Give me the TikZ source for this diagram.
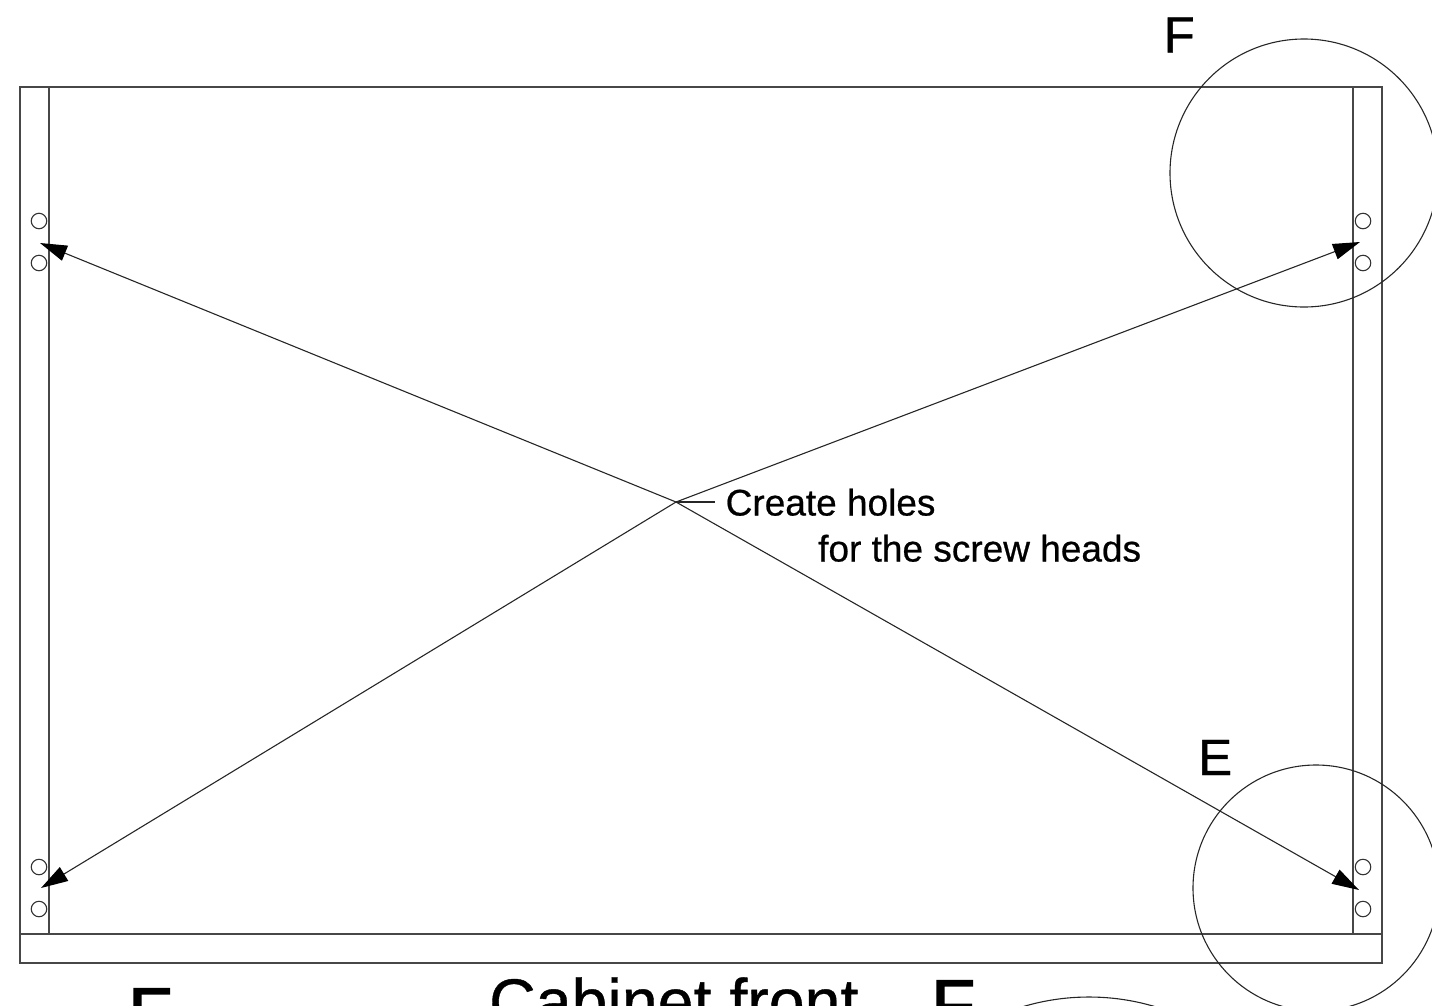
\documentclass[tikz,border=0pt]{standalone}
\usepackage{fontspec}
\setmainfont{Liberation Sans}
\newfontfamily\lightheavy[FakeBold=0.6]{Liberation Sans}
\newfontfamily\heavyfont[FakeBold=2]{Liberation Sans}
\usetikzlibrary{arrows.meta}
\tikzset{
  ln/.style={line width=1.2pt,draw=black!72},
  thin ln/.style={line width=1.1pt,draw=black!85},
  hole/.style={circle,draw=black!80,line width=1.1pt,minimum size=15.5pt,inner sep=0pt},
  arr/.style={thin ln,-{Triangle[length=27pt,width=16pt,black]}},
  lab/.style={inner sep=0pt,anchor=base west,text=black},
  small/.style={lab,font=\lightheavy\fontsize{37pt}{40pt}\selectfont},
  mid/.style={lab,font=\lightheavy\fontsize{51pt}{55pt}\selectfont},
  big/.style={lab,font=\lightheavy\fontsize{64.5pt}{70pt}\selectfont},
  huge/.style={lab,font=\heavyfont\fontsize{72pt}{76pt}\selectfont}
}
\begin{document}
\begin{tikzpicture}[x=1pt,y=-1pt]
\useasboundingbox (0,0) rectangle (1432,1005);
\clip (0,0) rectangle (1432,1005);
\draw[ln] (20,87) rectangle (1382,963);
\draw[ln] (49,87) -- (49,934);
\draw[ln] (1353,87) -- (1353,934);
\draw[ln] (20,934) -- (1382,934);
\foreach \n/\hx/\hy in {a/39/221,b/39/263,c/39/867,d/39/909,e/1363/221,f/1363/263,g/1363/867,h/1363/909}
  \node[hole] (hole\n) at (\hx,\hy) {};
\draw[thin ln] (1304,173) circle[radius=134];
\draw[thin ln] (1316,888) circle[radius=123];
\draw[thin ln] (1089,1227) circle[radius=230];
\coordinate (hub) at (676,502);
\coordinate (tl) at (40,243);
\coordinate (tr) at (1360,242);
\coordinate (bl) at (41,888);
\coordinate (br) at (1359,890);
\draw[arr] (hub) -- (tl);
\draw[arr] (hub) -- (tr);
\draw[arr] (hub) -- (bl);
\draw[arr] (hub) -- (br);
\node[small] (create) at (725.5,515.5) {Create holes};
\node[small] (screw) at (818,561.5) {for the screw heads};
\coordinate (leader) at (715,502);
\draw[thin ln] (hub) -- (leader);
\node[mid] (lF) at (1163.5,52.5) {F};
\node[mid] (lE) at (1198,775) {E};
\node[big] (lC) at (489,1024) {Cabinet front};
\node[huge] (bF) at (931,1030) {F};
\node[huge] (bE) at (128,1038) {F};
\end{tikzpicture}
\end{document}
